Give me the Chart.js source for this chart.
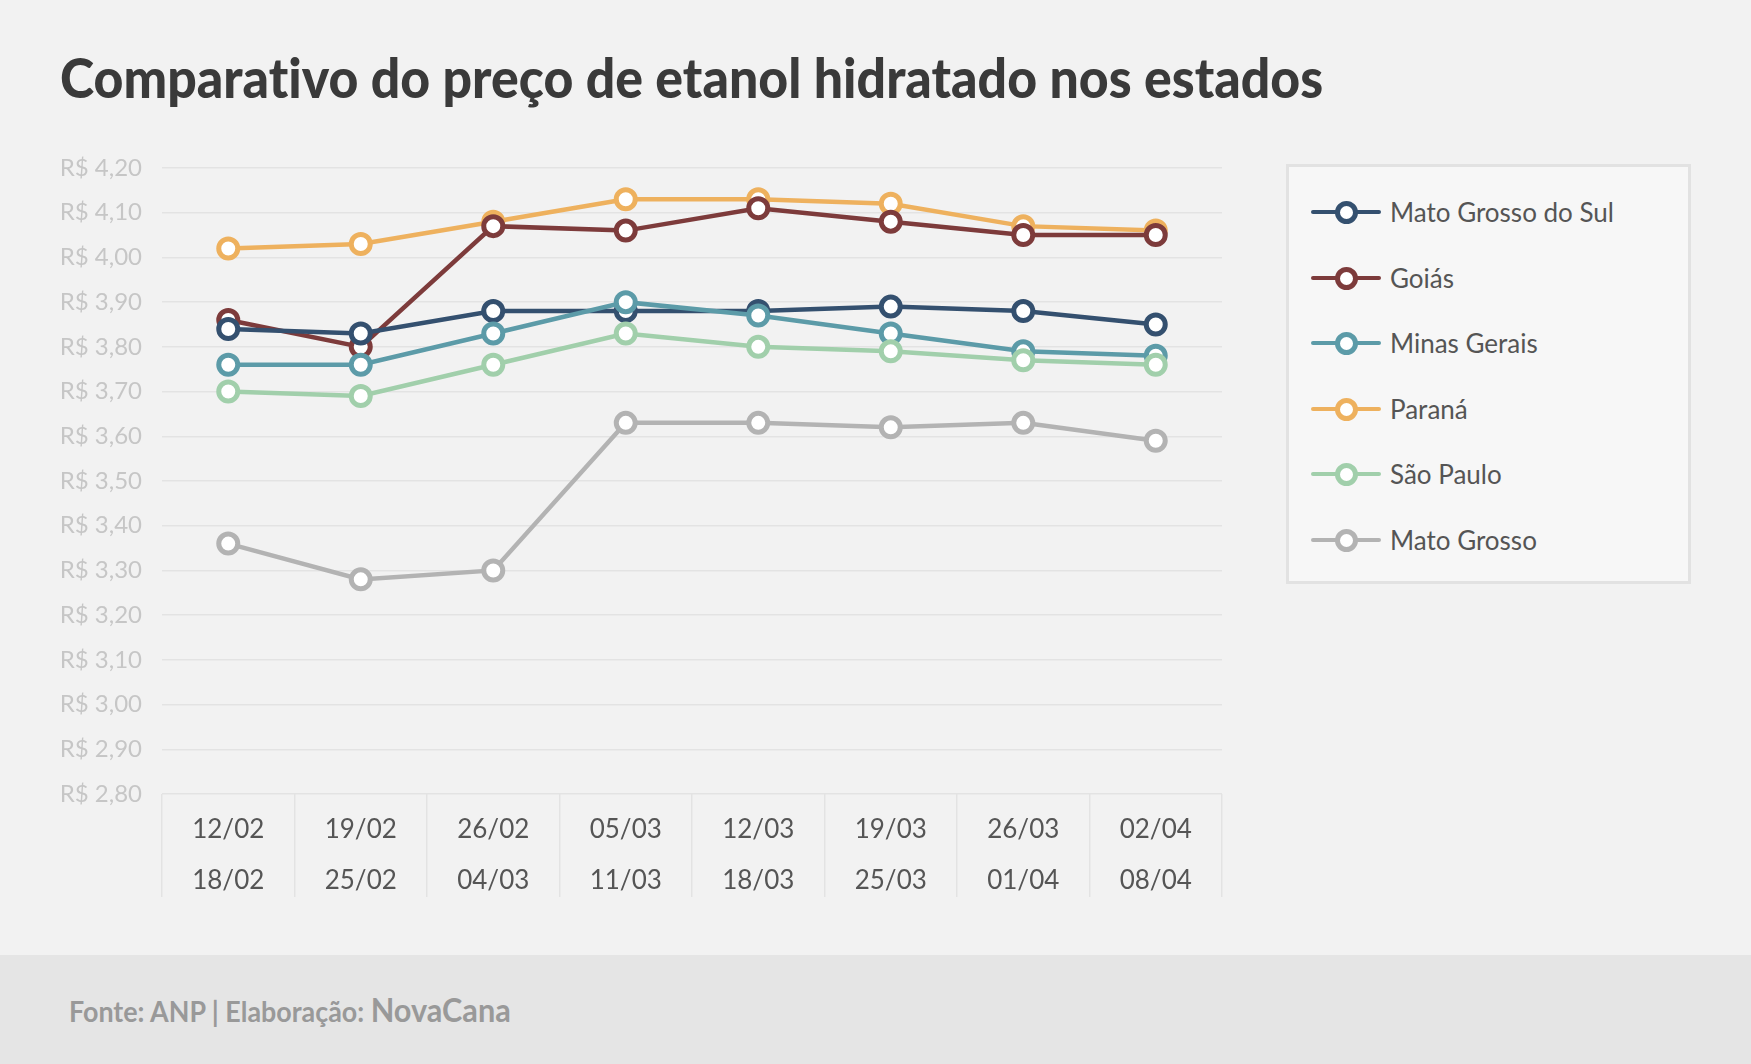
<!DOCTYPE html>
<html>
<head>
<meta charset="utf-8">
<script src="https://cdn.jsdelivr.net/npm/chart.js@4.4.1/dist/chart.umd.min.js"></script>
<style>
  html, body { margin: 0; padding: 0; }
  body { width: 1751px; height: 1064px; background: #f2f2f2; position: relative; overflow: hidden; font-family: Lato, sans-serif; font-variant-ligatures: none; }
  #title { position: absolute; left: 60px; top: 49px; margin: 0; font-size: 56px; line-height: 1; font-weight: 900; color: #3a3a3a; white-space: nowrap; transform-origin: 0 0; }
  #chart { position: absolute; left: 0; top: 0; }
  #legend { position: absolute; left: 1286px; top: 164px; width: 399px; height: 414px; background: #f7f7f7; border: 3px solid #e2e2e2; }
  .item { position: absolute; left: 22px; height: 30px; }
  .item .ln { position: absolute; left: 0; top: 13px; width: 70px; height: 4px; border-radius: 2px; }
  .item .pt { position: absolute; left: 24px; top: 4px; width: 13px; height: 13px; border-radius: 50%; background: #fff; border: 5px solid; }
  .item .tx { position: absolute; left: 79px; top: 0; font-size: 26px; line-height: 30px; color: #555; white-space: nowrap; }
  #footer { position: absolute; left: 0; top: 955px; width: 1751px; height: 109px; background: #e5e5e5; }
  #src { position: absolute; left: 69px; top: 39px; font-size: 28px; line-height: 1; color: #999; white-space: nowrap; transform-origin: 0 0; }
  #src b { font-weight: 700; }
  #src span { font-size: 32px; font-weight: 700; }
</style>
</head>
<body>
<h1 id="title">Comparativo do preço de etanol hidratado nos estados</h1>
<canvas id="chart" width="1240" height="960"></canvas>
<div id="legend"></div>
<div id="footer"><div id="src"><b>Fonte: ANP | Elaboração: </b><span>NovaCana</span></div></div>
<script>
// semanas (inicio / fim)
const weekStart = ['12/02', '19/02', '26/02', '05/03', '12/03', '19/03', '26/03', '02/04'];
const weekEnd = ['18/02', '25/02', '04/03', '11/03', '18/03', '25/03', '01/04', '08/04'];

// preco medio do etanol hidratado (R$/litro)
const matoGrossoDoSul = [3.84, 3.83, 3.88, 3.88, 3.88, 3.89, 3.88, 3.85];
const goias = [3.86, 3.80, 4.07, 4.06, 4.11, 4.08, 4.05, 4.05];
const minasGerais = [3.76, 3.76, 3.83, 3.90, 3.87, 3.83, 3.79, 3.78];
const parana = [4.02, 4.03, 4.08, 4.13, 4.13, 4.12, 4.07, 4.06];
const saoPaulo = [3.70, 3.69, 3.76, 3.83, 3.80, 3.79, 3.77, 3.76];
const matoGrosso = [3.36, 3.28, 3.30, 3.63, 3.63, 3.62, 3.63, 3.59];

const yMin = 2.8, yMax = 4.2, yStep = 0.1;

const series = [
  { label: 'Mato Grosso do Sul', data: matoGrossoDoSul, color: '#34506f', order: 3 },
  { label: 'Goiás', data: goias, color: '#7d3b3b', order: 4 },
  { label: 'Minas Gerais', data: minasGerais, color: '#5c9ba8', order: 2 },
  { label: 'Paraná', data: parana, color: '#eeb15e', order: 5 },
  { label: 'São Paulo', data: saoPaulo, color: '#a1cfab', order: 1 },
  { label: 'Mato Grosso', data: matoGrosso, color: '#b3b3b3', order: 0 }
];

const legend = document.getElementById('legend');
series.forEach(function (s, i) {
  const it = document.createElement('div');
  it.className = 'item';
  it.style.top = (30 + i * 65.6) + 'px';
  it.innerHTML = '<div class="ln" style="background:' + s.color + '"></div>' +
    '<div class="pt" style="border-color:' + s.color + '"></div>' +
    '<div class="tx">' + s.label + '</div>';
  legend.appendChild(it);
});

const ctx = document.getElementById('chart');
new Chart(ctx, {
  type: 'line',
  data: {
    labels: weekStart.map(function (w, i) { return [w, weekEnd[i]]; }),
    datasets: series.map(function (s) {
      return {
        label: s.label,
        data: s.data,
        order: s.order,
        borderColor: s.color,
        borderWidth: 4.5,
        pointRadius: 9.5,
        pointHoverRadius: 9.5,
        pointBorderWidth: 5,
        pointBackgroundColor: '#ffffff',
        pointBorderColor: s.color,
        tension: 0
      };
    })
  },
  options: {
    responsive: false,
    devicePixelRatio: 1,
    animation: false,
    layout: { padding: { left: 62, top: 168, right: 18, bottom: 56 } },
    plugins: { legend: { display: false }, tooltip: { enabled: false } },
    scales: {
      x: {
        offset: true,
        border: { display: false },
        grid: { display: true, drawOnChartArea: false, drawTicks: true, tickLength: 103, offset: true, color: '#e3e3e3', lineWidth: 1.5 },
        ticks: { padding: -93, color: '#555555', font: { family: 'Lato', size: 26, lineHeight: 1.96 } },
        afterFit: function (axis) { axis.height = 110; }
      },
      y: {
        min: yMin,
        max: yMax,
        border: { display: false },
        grid: { color: '#e3e3e3', lineWidth: 1.5, drawTicks: false },
        ticks: {
          stepSize: yStep,
          padding: 20,
          color: '#c6c6c6',
          font: { family: 'Lato', size: 24 },
          callback: function (v) { return 'R$ ' + Number(v).toFixed(2).replace('.', ','); }
        },
        afterFit: function (axis) { axis.width = 100; }
      }
    }
  }
});

function fitWidth(el, w) {
  el.style.transform = 'scaleX(' + (w / el.scrollWidth) + ')';
}
fitWidth(document.getElementById('title'), 1263);
fitWidth(document.getElementById('src'), 442);
</script>
</body>
</html>
